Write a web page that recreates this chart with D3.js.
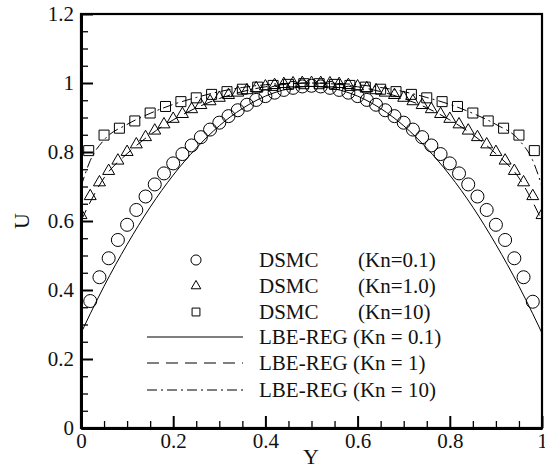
<!DOCTYPE html>
<html>
<head>
<meta charset="utf-8">
<script src="https://cdn.jsdelivr.net/npm/d3@7"></script>
<style>
body{margin:0;background:#fff}
svg{display:block;font-family:"Liberation Serif","Times New Roman",serif}
</style>
</head>
<body>
<svg></svg>
<script>

// DSMC points, Kn = 0.1 (circles)
var circleX = [0.02,0.04,0.06,0.08,0.10,0.12,0.14,0.16,0.18,0.20,0.22,0.24,0.26,0.28,0.30,0.32,0.34,0.36,0.38,0.40,0.42,0.44,0.46,0.48,0.50,
               0.52,0.54,0.56,0.58,0.60,0.62,0.64,0.66,0.68,0.70,0.72,0.74,0.76,0.78,0.80,0.82,0.84,0.86,0.88,0.90,0.92,0.94,0.96,0.98]
var circleU = [0.368,0.437,0.492,0.545,0.589,0.632,0.671,0.706,0.738,0.767,0.794,0.819,0.843,0.865,0.885,0.904,0.921,0.937,0.951,0.962,0.972,0.980,0.986,0.990,0.992,
               0.990,0.986,0.980,0.972,0.962,0.951,0.937,0.921,0.904,0.885,0.865,0.843,0.819,0.794,0.767,0.738,0.706,0.671,0.632,0.589,0.545,0.492,0.437,0.366]

// DSMC points, Kn = 1.0 (triangles)
var triangleX = [0,0.02,0.04,0.06,0.08,0.10,0.12,0.14,0.16,0.18,0.20,0.22,0.24,0.26,0.28,0.30,0.32,0.34,0.36,0.38,0.40,0.42,0.44,0.46,0.48,0.50,
                 0.52,0.54,0.56,0.58,0.60,0.62,0.64,0.66,0.68,0.70,0.72,0.74,0.76,0.78,0.80,0.82,0.84,0.86,0.88,0.90,0.92,0.94,0.96,0.98,1]
var triangleU = [0.617,0.672,0.712,0.745,0.775,0.800,0.822,0.843,0.862,0.880,0.896,0.910,0.924,0.936,0.947,0.957,0.965,0.972,0.979,0.985,0.990,0.994,0.997,0.999,1.000,1.000,
                 1.000,0.999,0.997,0.994,0.990,0.985,0.979,0.972,0.965,0.957,0.947,0.936,0.924,0.910,0.896,0.880,0.862,0.843,0.822,0.800,0.775,0.745,0.712,0.672,0.617]

// DSMC points, Kn = 10 (squares)
var squareX = [0.0167,0.05,0.0833,0.1167,0.15,0.1833,0.2167,0.25,0.2833,0.3167,0.35,0.3833,0.4167,0.45,0.4833,
               0.5167,0.55,0.5833,0.6167,0.65,0.6833,0.7167,0.75,0.7833,0.8167,0.85,0.8833,0.9167,0.95,0.9833]
var squareU = [0.804,0.849,0.869,0.890,0.913,0.932,0.946,0.957,0.967,0.975,0.982,0.988,0.993,0.996,0.998,
               0.998,0.996,0.993,0.988,0.982,0.975,0.967,0.957,0.946,0.932,0.913,0.890,0.869,0.849,0.804]

// LBE-REG curves
var lineX = [0,0.02,0.05,0.1,0.15,0.2,0.25,0.3,0.35,0.4,0.45,0.5,0.55,0.6,0.65,0.7,0.75,0.8,0.85,0.9,0.95,0.98,1]
var lbeKn01 = [0.275,0.331,0.411,0.532,0.640,0.733,0.811,0.876,0.926,0.962,0.983,0.990,0.983,0.962,0.926,0.876,0.811,0.733,0.640,0.532,0.411,0.331,0.275]
var lbeKn1  = [0.600,0.655,0.725,0.795,0.850,0.893,0.928,0.955,0.975,0.989,0.997,1.000,0.997,0.989,0.975,0.955,0.928,0.893,0.850,0.795,0.725,0.655,0.600]
var lbeKn10 = [0.700,0.775,0.835,0.880,0.912,0.938,0.958,0.975,0.987,0.995,0.999,1.000,0.999,0.995,0.987,0.975,0.958,0.938,0.912,0.880,0.835,0.775,0.700]

var xMajor = [0,0.2,0.4,0.6,0.8,1]
var xTickLabels = ["0","0.2","0.4","0.6","0.8","1"]
var yMajor = [0,0.2,0.4,0.6,0.8,1,1.2]
var yTickLabels = ["0","0.2","0.4","0.6","0.8","1","1.2"]
var xMinor = [0.05,0.1,0.15,0.25,0.3,0.35,0.45,0.5,0.55,0.65,0.7,0.75,0.85,0.9,0.95]
var yMinor = [0.05,0.1,0.15,0.25,0.3,0.35,0.45,0.5,0.55,0.65,0.7,0.75,0.85,0.9,0.95,1.05,1.1,1.15]

var dsmcNames = ["DSMC","DSMC","DSMC"]
var dsmcKn = ["(Kn=0.1)","(Kn=1.0)","(Kn=10)"]
var lbeNames = ["LBE-REG (Kn = 0.1)","LBE-REG (Kn = 1)","LBE-REG (Kn = 10)"]


var width = 545
var height = 468
var pLeft = 81, pTop = 14, pRight = 542, pBottom = 428

var svg = d3.select('svg')
            .attr('width', width)
            .attr('height', height)

var xScale = d3.scaleLinear().domain([0,1]).range([pLeft,pRight])
var yScale = d3.scaleLinear().domain([0,1.2]).range([pBottom,pTop])

svg.append('defs').append('clipPath').attr('id','plotclip')
   .append('rect').attr('x',pLeft).attr('y',pTop).attr('width',pRight-pLeft).attr('height',pBottom-pTop)

// frame (top / right)
svg.append('rect')
   .attr('x',pLeft).attr('y',pTop).attr('width',pRight-pLeft).attr('height',pBottom-pTop)
   .attr('fill','none').attr('stroke','#000').attr('stroke-width',2.2)

// minor ticks
var xMinorAxis = svg.append('g').attr('transform','translate(0,'+pBottom+')')
   .call(d3.axisBottom(xScale).tickValues(xMinor).tickFormat('').tickSize(-7).tickSizeOuter(0))
var yMinorAxis = svg.append('g').attr('transform','translate('+pLeft+',0)')
   .call(d3.axisLeft(yScale).tickValues(yMinor).tickFormat('').tickSize(-7).tickSizeOuter(0))
xMinorAxis.select('.domain').remove()
yMinorAxis.select('.domain').remove()
svg.selectAll('.tick line').attr('stroke-width',1.3)

// major axes
var xAxis = svg.append('g').attr('class','major').attr('transform','translate(0,'+pBottom+')')
   .call(d3.axisBottom(xScale).tickValues(xMajor).tickFormat(function(d,i){return xTickLabels[i]})
         .tickSize(-12).tickSizeOuter(0).tickPadding(5))
var yAxis = svg.append('g').attr('class','major').attr('transform','translate('+pLeft+',0)')
   .call(d3.axisLeft(yScale).tickValues(yMajor).tickFormat(function(d,i){return yTickLabels[i]})
         .tickSize(-12).tickSizeOuter(0).tickPadding(7))

svg.selectAll('.major .tick line').attr('stroke-width',2)
svg.selectAll('.major .domain').attr('stroke-width',3)
svg.selectAll('.major text').attr('font-family','"Liberation Serif",serif').attr('font-size',21).attr('fill','#111')

// axis titles
svg.append('text').attr('x',311).attr('y',464).attr('text-anchor','middle')
   .attr('font-size',22).attr('fill','#111').text('Y')
svg.append('text').attr('transform','translate(29,221) rotate(-90)').attr('text-anchor','middle')
   .attr('font-size',22).attr('fill','#111').text('U')

var plot = svg.append('g').attr('clip-path','url(#plotclip)')

// LBE curves
var lines = [
  {vals: lbeKn01, dash: null},
  {vals: lbeKn1, dash: '12,7'},
  {vals: lbeKn10, dash: '10,4,2,4'}
]
var lineGen = d3.line()
                .x(function(d){return xScale(d[0])})
                .y(function(d){return yScale(d[1])})
                .curve(d3.curveMonotoneX)

lines.forEach(function(l){
  plot.append('path')
      .datum(lineX.map(function(x,i){return [x,l.vals[i]]}))
      .attr('d',lineGen)
      .attr('fill','none')
      .attr('stroke','#000')
      .attr('stroke-width',1)
      .attr('stroke-dasharray',l.dash)
})

// DSMC markers
var markerSets = [
  {xs: circleX, us: circleU, type: d3.symbolCircle, size: 133},
  {xs: triangleX, us: triangleU, type: d3.symbolTriangle, size: 62},
  {xs: squareX, us: squareU, type: d3.symbolSquare, size: 100}
]
markerSets.forEach(function(m){
  plot.selectAll(null)
      .data(m.xs)
      .enter()
      .append('path')
      .attr('transform',function(d,i){return 'translate('+xScale(d)+','+yScale(m.us[i])+')'})
      .attr('d',d3.symbol().type(m.type).size(m.size))
      .attr('fill','none')
      .attr('stroke','#000')
      .attr('stroke-width',1)
})

// legend
var legendSyms = [
  {type: d3.symbolCircle, size: 80},
  {type: d3.symbolTriangle, size: 40},
  {type: d3.symbolSquare, size: 62}
]
var legend = svg.append('g')
var rowY = [260,286,312,337,363,390]

legendSyms.forEach(function(s,i){
  legend.append('path')
        .attr('transform','translate(196,'+rowY[i]+')')
        .attr('d',d3.symbol().type(s.type).size(s.size))
        .attr('fill','none').attr('stroke','#000').attr('stroke-width',1)
  legend.append('text').attr('x',259).attr('y',rowY[i]).attr('dy','0.35em')
        .attr('font-size',21).attr('fill','#111').text(dsmcNames[i])
  legend.append('text').attr('x',358).attr('y',rowY[i]).attr('dy','0.35em')
        .attr('font-size',21).attr('fill','#111').text(dsmcKn[i])
})

lines.forEach(function(l,i){
  var yy = rowY[i+3]
  legend.append('line')
        .attr('x1',147).attr('x2',243).attr('y1',yy).attr('y2',yy)
        .attr('stroke','#000').attr('stroke-width',1)
        .attr('stroke-dasharray',l.dash)
  legend.append('text').attr('x',259).attr('y',yy).attr('dy','0.35em')
        .attr('font-size',21).attr('fill','#111').text(lbeNames[i])
})

</script>
</body>
</html>
